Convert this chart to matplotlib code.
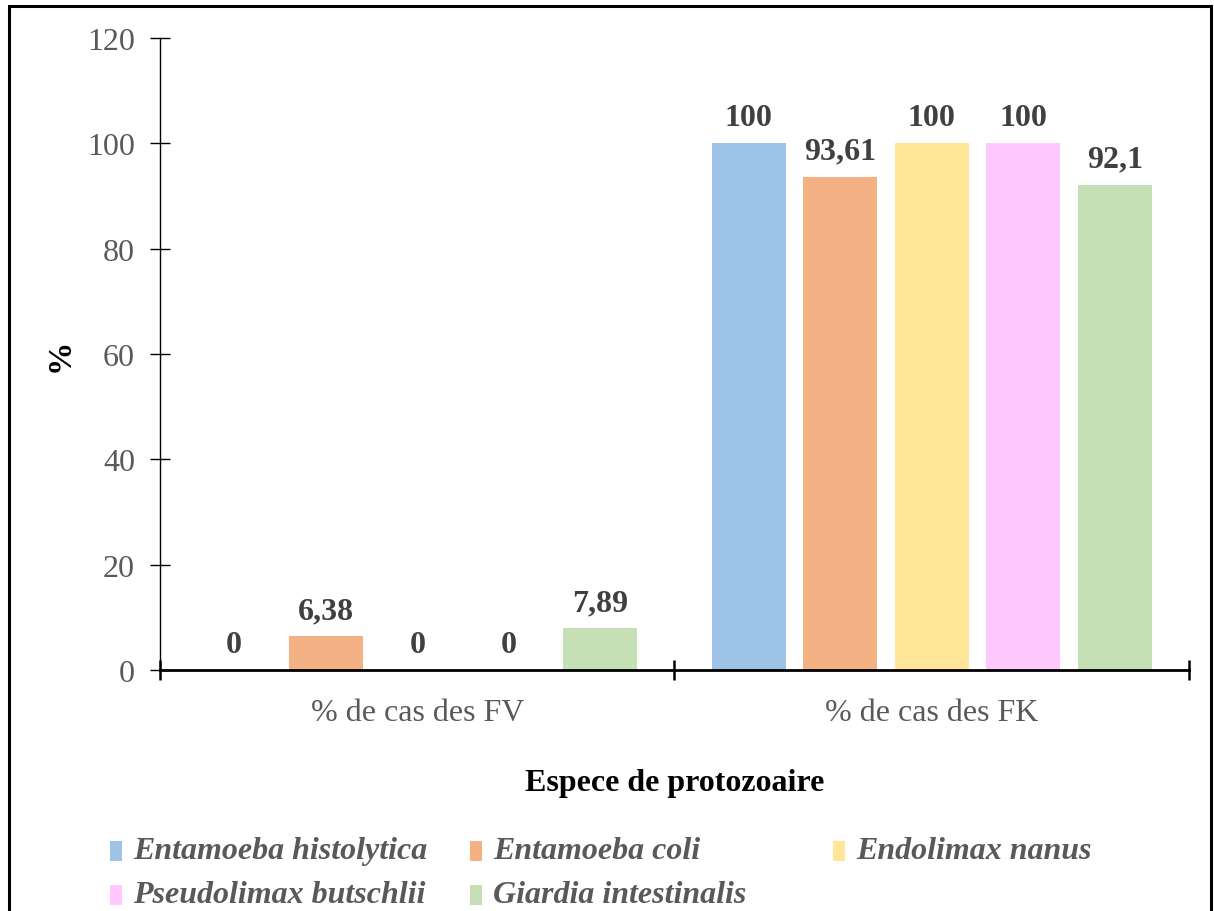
import matplotlib
matplotlib.use("Agg")
import matplotlib.pyplot as plt
from matplotlib.patches import Rectangle
import numpy as np

plt.rcParams['font.family'] = ['Liberation Serif', 'DejaVu Serif']

categories = ["% de cas des FV", "% de cas des FK"]
species = ["Entamoeba histolytica", "Entamoeba coli", "Endolimax nanus",
           "Pseudolimax butschlii", "Giardia intestinalis"]
values = {
    "Entamoeba histolytica": [0, 100],
    "Entamoeba coli": [6.38, 93.61],
    "Endolimax nanus": [0, 100],
    "Pseudolimax butschlii": [0, 100],
    "Giardia intestinalis": [7.89, 92.1],
}
labels = {
    "Entamoeba histolytica": ["0", "100"],
    "Entamoeba coli": ["6,38", "93,61"],
    "Endolimax nanus": ["0", "100"],
    "Pseudolimax butschlii": ["0", "100"],
    "Giardia intestinalis": ["7,89", "92,1"],
}
colors = ["#9DC3E6", "#F4B183", "#FFE699", "#FFC9FF", "#C5E0B4"]
yticks = [0, 20, 40, 60, 80, 100, 120]

fig = plt.figure(figsize=(12.14, 9.12), dpi=100)
ax = fig.add_axes([0.1318, 0.2643, 0.8476, 0.6930])

x = np.arange(len(categories))
bar_w = 0.144
step = 0.178
for i, sp in enumerate(species):
    offs = (i - 2) * step
    bars = ax.bar(x + offs, values[sp], width=bar_w, color=colors[i], zorder=2)
    for b, lab in zip(bars, labels[sp]):
        ax.annotate(lab, (b.get_x() + b.get_width() / 2, b.get_height()),
                    xytext=(0, 8), textcoords="offset points",
                    ha="center", va="bottom", fontsize=23, fontweight="bold",
                    color="#404040")

ax.set_xlim(-0.5, 1.5)
ax.set_ylim(0, 120)
ax.set_yticks(yticks)
ax.set_yticklabels([str(t) for t in yticks], fontsize=23, color="#595959")

ax.set_xticks([-0.5, 0.5, 1.5])
ax.set_xticklabels([])
ax.set_xticks(x, minor=True)
ax.set_xticklabels(categories, minor=True, fontsize=23, color="#595959")
ax.tick_params(axis="x", which="minor", length=0, pad=20)
ax.tick_params(axis="x", which="major", direction="inout", length=14, width=1.8, color="black")
ax.tick_params(axis="y", direction="inout", length=14, width=1.0, color="black", pad=11)

for s in ["top", "right"]:
    ax.spines[s].set_visible(False)
ax.spines["left"].set_linewidth(1.0)
ax.spines["bottom"].set_linewidth(2.0)

ax.set_ylabel("%", fontsize=24, fontweight="bold", color="black", labelpad=8)
ax.set_xlabel("Espece de protozoaire", fontsize=23, fontweight="bold",
              color="black", labelpad=30)

# Legend drawn by hand in figure pixel coordinates
W, H = 1214, 912
cols_x = [110, 470, 833]
rows_y = [852, 896]
for i, sp in enumerate(species):
    cx = cols_x[i % 3]
    cy = rows_y[i // 3]
    fig.add_artist(Rectangle((cx / W, (H - cy - 10) / H), 12 / W, 20 / H,
                             transform=fig.transFigure, color=colors[i], lw=0))
    fig.text((cx + 23) / W, (H - cy) / H, sp, fontsize=23, fontstyle="italic",
             fontweight="bold", color="#595959", ha="left", va="center")

# Outer frame
fig.add_artist(Rectangle((9 / W, -0.02), 1202 / W, (H - 7) / H + 0.02,
                         transform=fig.transFigure, fill=False,
                         edgecolor="black", lw=2.2))

fig.savefig("out.png", dpi=100)
